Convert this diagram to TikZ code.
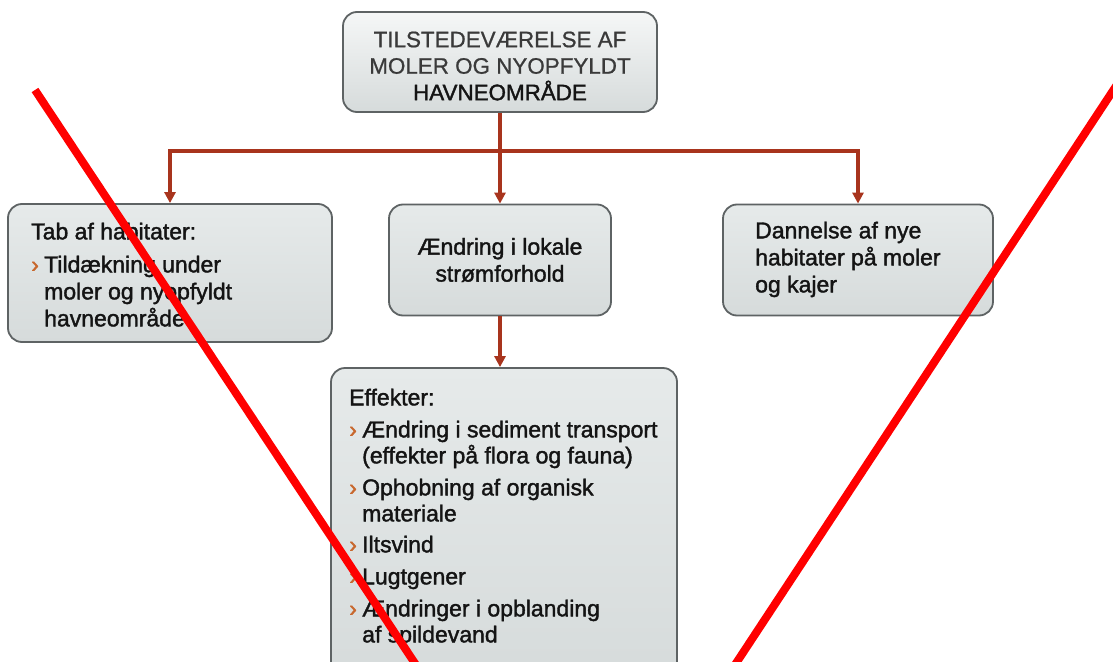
\documentclass[tikz,border=0pt]{standalone}
\usepackage{fontspec}
\setmainfont{Liberation Sans}[FakeBold=1.6]
\newfontfamily\capsfont{Liberation Sans}[FakeBold=0.8]
\usetikzlibrary{arrows.meta}

\definecolor{boxline}{HTML}{5E6364}
\definecolor{boxtop}{HTML}{E6EAEA}
\definecolor{boxbot}{HTML}{D6DBDB}
\definecolor{linkred}{HTML}{A8341D}
\definecolor{chev}{HTML}{C8682E}
\definecolor{ink}{HTML}{141414}
\definecolor{capsink}{HTML}{3A3A3A}

\newcommand{\itm}{\makebox[13pt][l]{\textcolor{chev}{›}}}
\newcommand{\cnt}{\hspace*{13pt}}

\begin{document}
\begin{tikzpicture}[x=1pt,y=-1pt,
  box/.style={draw=boxline, line width=1.8pt, rounded corners=14pt,
    top color=boxtop, bottom color=boxbot},
  txt/.style={inner sep=0pt, text=ink, font=\fontsize{23}{27}\selectfont},
  link/.style={draw=linkred, line width=3.2pt, -{Triangle[length=11pt,width=11pt]}}]

\fill[white] (0,0) rectangle (1113,661);
\useasboundingbox (0,0) rectangle (1113,661);
\clip (0,0) rectangle (1113,661);

\node[box, minimum width=314, minimum height=100, top color=white!60!boxtop,
  middle color=boxtop, bottom color=boxbot] (source) at (500,62) {};
\node[box, minimum width=324, minimum height=138] (loss) at (170,273) {};
\node[box, minimum width=222, minimum height=111] (change) at (500,260) {};
\node[box, minimum width=270, minimum height=111] (habitat) at (858,260) {};
\node[box, minimum width=346, minimum height=312] (effects) at (504,524) {};

\node[txt, align=center, font=\fontsize{22.4}{26.5}\selectfont] (sourcetxt) at (500,66)
  {{\capsfont\textcolor{capsink}{TILSTEDEVÆRELSE AF}}\\
   {\capsfont\textcolor{capsink}{MOLER OG NYOPFYLDT}}\\
   HAVNEOMRÅDE};
\node[txt, align=left, anchor=north west] (losstxt) at (31,222.5)
  {Tab af habitater:\\[6pt]
   \itm Tildækning under\\
   \cnt moler og nyopfyldt\\
   \cnt havneområde};
\node[txt, align=center] (changetxt) at (500,260)
  {Ændring i lokale\\ strømforhold};
\node[txt, align=left, anchor=north west] (habitattxt) at (755,221.5)
  {Dannelse af nye\\ habitater på moler\\ og kajer};
\node[txt, align=left, anchor=north west, font=\fontsize{23}{26}\selectfont] (effectstxt) at (349,388.5)
  {Effekter:\\[6pt]
   \itm Ændring i sediment transport\\
   \cnt (effekter på flora og fauna)\\[6pt]
   \itm Ophobning af organisk\\
   \cnt materiale\\[5pt]
   \itm Iltsvind\\[6pt]
   \itm Lugtgener\\[6pt]
   \itm Ændringer i opblanding\\
   \cnt af spildevand};

\draw[link] (source.south) -- ++(0,38) -| (loss.north);
\draw[link] (source.south) -- ++(0,38) -| (habitat.north);
\draw[link] (source.south) -- (change.north);
\draw[link] (change.south) -- (change.south |- effects.north);

\draw[red, line width=8pt] (35,90) -- (426,680);
\draw[red, line width=8pt] (1120,80) -- (725,680);

\end{tikzpicture}
\end{document}
